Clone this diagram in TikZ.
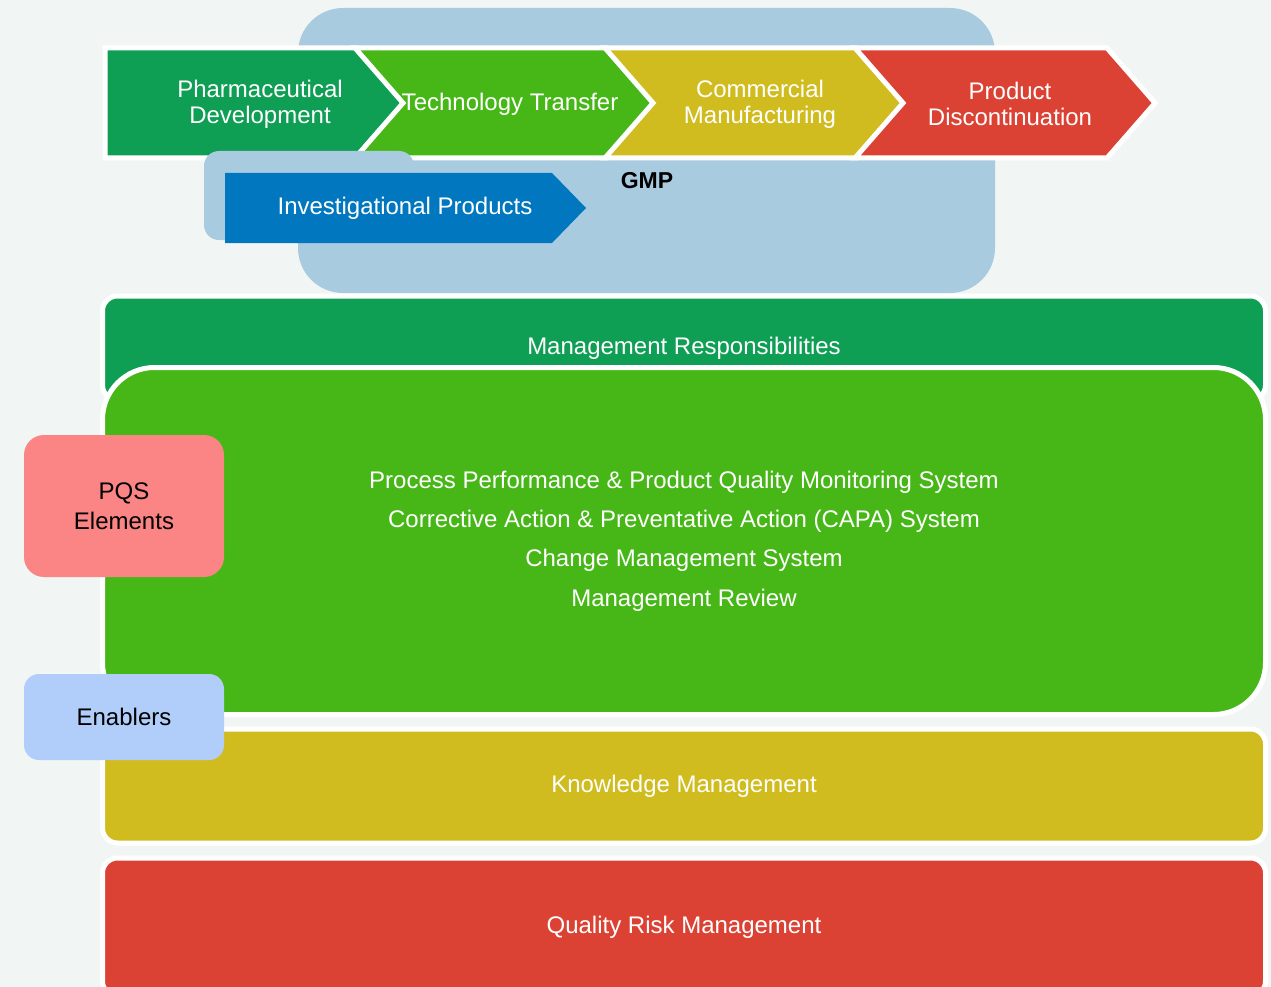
\documentclass[tikz,border=0pt]{standalone}
\usepackage{fontspec}
\setmainfont{Liberation Sans}
\usetikzlibrary{positioning}
\definecolor{paper}{HTML}{F1F6F4}
\definecolor{gmpblue}{HTML}{A9CBE0}
\definecolor{devgreen}{HTML}{0E9E54}
\definecolor{limegreen}{HTML}{46B717}
\definecolor{mustard}{HTML}{D0BC1F}
\definecolor{brick}{HTML}{DB4234}
\definecolor{ipblue}{HTML}{0077BE}
\definecolor{pqspink}{HTML}{FB8585}
\definecolor{enabblue}{HTML}{B1CEFB}
\tikzset{
stagebox/.style={
  draw=white,
  line width=5pt
  },
stagetext/.style={
  text=white,
  align=center,
  font=\fontsize{24}{26}\selectfont
  },
band/.style={
  draw=white,
  line width=5pt,
  rounded corners=15pt,
  minimum width=1163pt,
  text=white,
  align=center,
  font=\fontsize{24}{26}\selectfont
  },
tab/.style={
  rounded corners=20pt,
  minimum width=200pt,
  align=center,
  text=black,
  font=\fontsize{24}{30}\selectfont
  }
}

\begin{document}
\begin{tikzpicture}[x=1pt,y=-1pt]
  \useasboundingbox[fill=paper] (0,0) rectangle (1271,987);

  % GMP area behind the life cycle
  \fill[gmpblue, rounded corners=45pt] (298,8) rectangle (995,293);

  % life cycle stages
  \foreach \x/\n/\col/\lbl [count=\i] in {
      105/0/devgreen/{Pharmaceutical\\Development},
      355/48/limegreen/{Technology Transfer},
      605/48/mustard/{Commercial\\Manufacturing},
      855/48/brick/{Product\\Discontinuation}}
  {
    \draw[stagebox, fill=\col] (\x,48) -- ++(252,0) -- ++(48,55) -- ++(-48,55)
      -- ++(-252,0) -- ++(\n,-55) -- cycle;
    \node[stagetext] (stage\i) at (\x+155,104) {\lbl};
  }

  % investigational products
  \fill[gmpblue, rounded corners=15pt] (204,151) rectangle (414,240);
  \fill[ipblue] (225,173) -- (552,173) -- (586,208) -- (552,243) -- (225,243) -- cycle;
  \node[stagetext] (ip) at (405,208) {Investigational Products};
  \node[font=\fontsize{23}{24}\selectfont\bfseries] (gmp) at (647,181) {GMP};

  % PQS bands
  \node[band, fill=devgreen, minimum height=104pt] (mgmt) at (684,348) {Management Responsibilities};
  \node[band, fill=limegreen, rounded corners=52pt, minimum height=347pt,
        font=\fontsize{24}{39.3}\selectfont] (elements) at (684,541)
    {Process Performance \& Product Quality Monitoring System\\
     Corrective Action \& Preventative Action (CAPA) System\\
     Change Management System\\
     Management Review};
  \node[band, fill=mustard, minimum height=114pt] (km) at (684,786) {Knowledge Management};
  \node[band, fill=brick, minimum height=138pt] (qrm) at (684,927) {Quality Risk Management};

  % side tabs
  \node[tab, fill=pqspink, minimum height=142pt] (pqs) at (124,506) {PQS\\Elements};
  \node[tab, fill=enabblue, rounded corners=15pt, minimum height=86pt] (enab) at (124,717) {Enablers};
\end{tikzpicture}
\end{document}
